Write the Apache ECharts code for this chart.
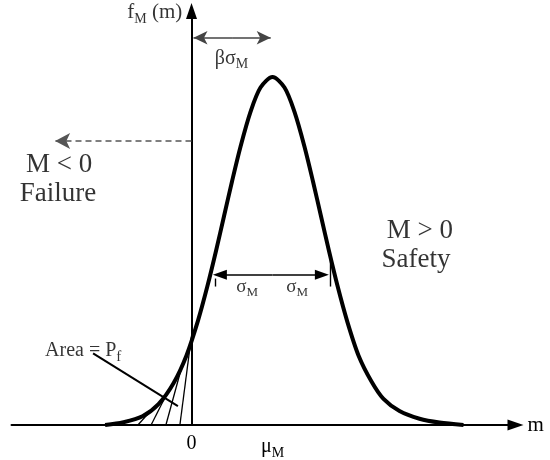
<!DOCTYPE html>
<html><head><meta charset="utf-8">
<script src="https://cdn.jsdelivr.net/npm/echarts@6/dist/echarts.min.js"></script>
<style>html,body{margin:0;padding:0;background:#fff}#c{width:550px;height:460px}</style>
</head><body><div id="c"></div>
<script>
// Density curve f_M(m) (x in drawing units, peak = 1)
const curveX = [-2.16, -1.70, -1.225, -0.825, -0.45, -0.125, 0.1625, 0.40, 0.6125, 0.8125, 1.0125, 1.225, 1.475, 1.725, 2.025, 2.325, 2.575, 2.825, 3.0375, 3.2375, 3.4375, 3.65, 3.8875, 4.175, 4.50, 4.80, 5.20, 5.70, 6.20, 6.80];
const curveY = [0.000, 0.008, 0.025, 0.060, 0.120, 0.200, 0.300, 0.400, 0.500, 0.600, 0.700, 0.800, 0.900, 0.970, 1.000, 0.970, 0.900, 0.800, 0.700, 0.600, 0.500, 0.400, 0.300, 0.200, 0.125, 0.075, 0.040, 0.018, 0.007, 0.000];
const mu = 2.025;            // mean μ_M
const sigmaLeft = 0.71;      // σ arrow ends (arrowhead centres)
const sigmaRight = 3.26;
const sigmaLevel = 0.432;
const sigmaTickX = [0.59, 3.46];
const sigmaTickTop = [0.421, 0.475];
const sigmaTickBottom = [0.398, 0.398];
const betaLevel = 1.113;     // βσ_M arrow height
const betaEnds = [0.05, 1.98];
const failArrowLevel = 0.816;
const failArrowEnd = -3.41;
// hatching of the tail (area = Pf)
const hatchStartX = [-0.29, -0.64, -1.01, -1.34];
const hatchEndX = [0.00, -0.21, -0.54, -0.94];
const hatchEndY = [0.257, 0.181, 0.107, 0.051];
// pointer from "Area = Pf"
const pointerX = [-2.46, -0.34];
const pointerY = [0.206, 0.054];
const xTickValues = [0, mu];
const xTickLabels = ['0', '{a|μ}{s|M}'];

const serif = 'Liberation Serif';
const chart = echarts.init(document.getElementById('c'));

const hatchData = hatchStartX.map((x, i) => ({coords: [[x, 0], [hatchEndX[i], hatchEndY[i]]]}));
const ml = (a, b, sa, sb, style, size) => [
  {coord: a, symbol: sa, symbolSize: size},
  {coord: b, symbol: sb, symbolSize: size, lineStyle: style}
];
const subRich = (fs, ss) => ({
  a: {fontFamily: serif, fontSize: fs, lineHeight: fs + 6, color: '#000'},
  s: {fontFamily: serif, fontSize: ss, lineHeight: ss, verticalAlign: 'bottom', color: '#000'}
});
const labelPt = (x, y, text, opts) => ({
  value: [x, y],
  label: Object.assign({show: true, position: 'inside', formatter: text, color: '#000', fontFamily: serif}, opts)
});

chart.setOption({
  animation: false,
  backgroundColor: '#fff',
  grid: {left: 11.5, top: 11, width: 504, height: 425},
  xAxis: {
    type: 'value', min: -4.5, max: 8.1,
    axisLine: {show: true, onZero: false, symbol: ['none', 'triangle'], symbolSize: [11, 16], lineStyle: {color: '#000', width: 2}},
    axisTick: {show: false}, splitLine: {show: false},
    axisLabel: {
      show: true, customValues: xTickValues, margin: 9, color: '#000', fontFamily: serif, fontSize: 20,
      formatter: v => xTickLabels[xTickValues.indexOf(v)] || '',
      rich: subRich(20, 14)
    },
    name: 'm', nameLocation: 'end', nameGap: 12,
    nameTextStyle: {fontFamily: serif, fontSize: 21, color: '#000', verticalAlign: 'middle'}
  },
  yAxis: {
    type: 'value', min: 0, max: 1.19,
    axisLine: {show: true, onZero: true, symbol: ['none', 'triangle'], symbolSize: [11, 16], lineStyle: {color: '#000', width: 2}},
    axisTick: {show: false}, splitLine: {show: false}, axisLabel: {show: false}
  },
  series: [
    {
      type: 'lines', coordinateSystem: 'cartesian2d', silent: true, z: 3,
      lineStyle: {color: '#000', width: 1.3, opacity: 1},
      data: hatchData
    },
    {
      type: 'line', silent: true, z: 5,
      data: curveX.map((x, i) => [x, curveY[i]]),
      smooth: 0.3, showSymbol: false,
      lineStyle: {color: '#000', width: 4},
      markLine: {
        silent: true, animation: false, label: {show: false},
        emphasis: {disabled: true},
        data: [
          ml([mu, 0], [mu, 1.195], 'none', 'none', {color: '#000', width: 1.1, type: [10, 3, 2, 3]}, 1),
          ml([(betaEnds[0] + betaEnds[1]) / 2, betaLevel], [betaEnds[0], betaLevel], 'none', 'arrow', {color: '#444', width: 1.6, type: 'solid'}, [10, 14]),
          ml([(betaEnds[0] + betaEnds[1]) / 2, betaLevel], [betaEnds[1], betaLevel], 'none', 'arrow', {color: '#444', width: 1.6, type: 'solid'}, [10, 14]),
          ml([mu, sigmaLevel], [sigmaLeft, sigmaLevel], 'none', 'triangle', {color: '#000', width: 1.6, type: 'solid'}, [10, 14]),
          ml([mu, sigmaLevel], [sigmaRight, sigmaLevel], 'none', 'triangle', {color: '#000', width: 1.6, type: 'solid'}, [10, 14]),
          ml([sigmaTickX[0], sigmaTickTop[0]], [sigmaTickX[0], sigmaTickBottom[0]], 'none', 'none', {color: '#000', width: 1.4, type: 'solid'}, 1),
          ml([sigmaTickX[1], sigmaTickTop[1]], [sigmaTickX[1], sigmaTickBottom[1]], 'none', 'none', {color: '#000', width: 1.4, type: 'solid'}, 1),
          ml([0, failArrowLevel], [failArrowEnd, failArrowLevel], 'none', 'arrow', {color: '#555', width: 1.5, type: [6, 4]}, [12, 15]),
          ml([pointerX[0], pointerY[0]], [pointerX[1], pointerY[1]], 'none', 'none', {color: '#000', width: 2, type: 'solid'}, 1)
        ]
      }
    },
    {
      type: 'scatter', silent: true, z: 6, symbolSize: 1,
      itemStyle: {color: 'rgba(0,0,0,0)'},
      data: [
        labelPt(-0.92, 1.185, '{a|f}{s|M}{a| (m)}', {rich: subRich(21, 14)}),
        labelPt(1.0, 1.053, '{a|βσ}{s|M}', {rich: subRich(20, 14)}),
        labelPt(-3.31, 0.749, 'M < 0', {fontSize: 27}),
        labelPt(-3.34, 0.664, 'Failure', {fontSize: 27}),
        labelPt(5.71, 0.559, 'M > 0', {fontSize: 27}),
        labelPt(5.61, 0.475, 'Safety', {fontSize: 27}),
        labelPt(1.39, 0.398, '{a|σ}{s|M}', {rich: subRich(19, 13)}),
        labelPt(2.64, 0.398, '{a|σ}{s|M}', {rich: subRich(19, 13)}),
        labelPt(-3.66, 0.212, '{a|Area = P}{s|f}', {align: 'left', rich: subRich(20, 15)})
      ]
    }
  ]
});
</script>
</body></html>
